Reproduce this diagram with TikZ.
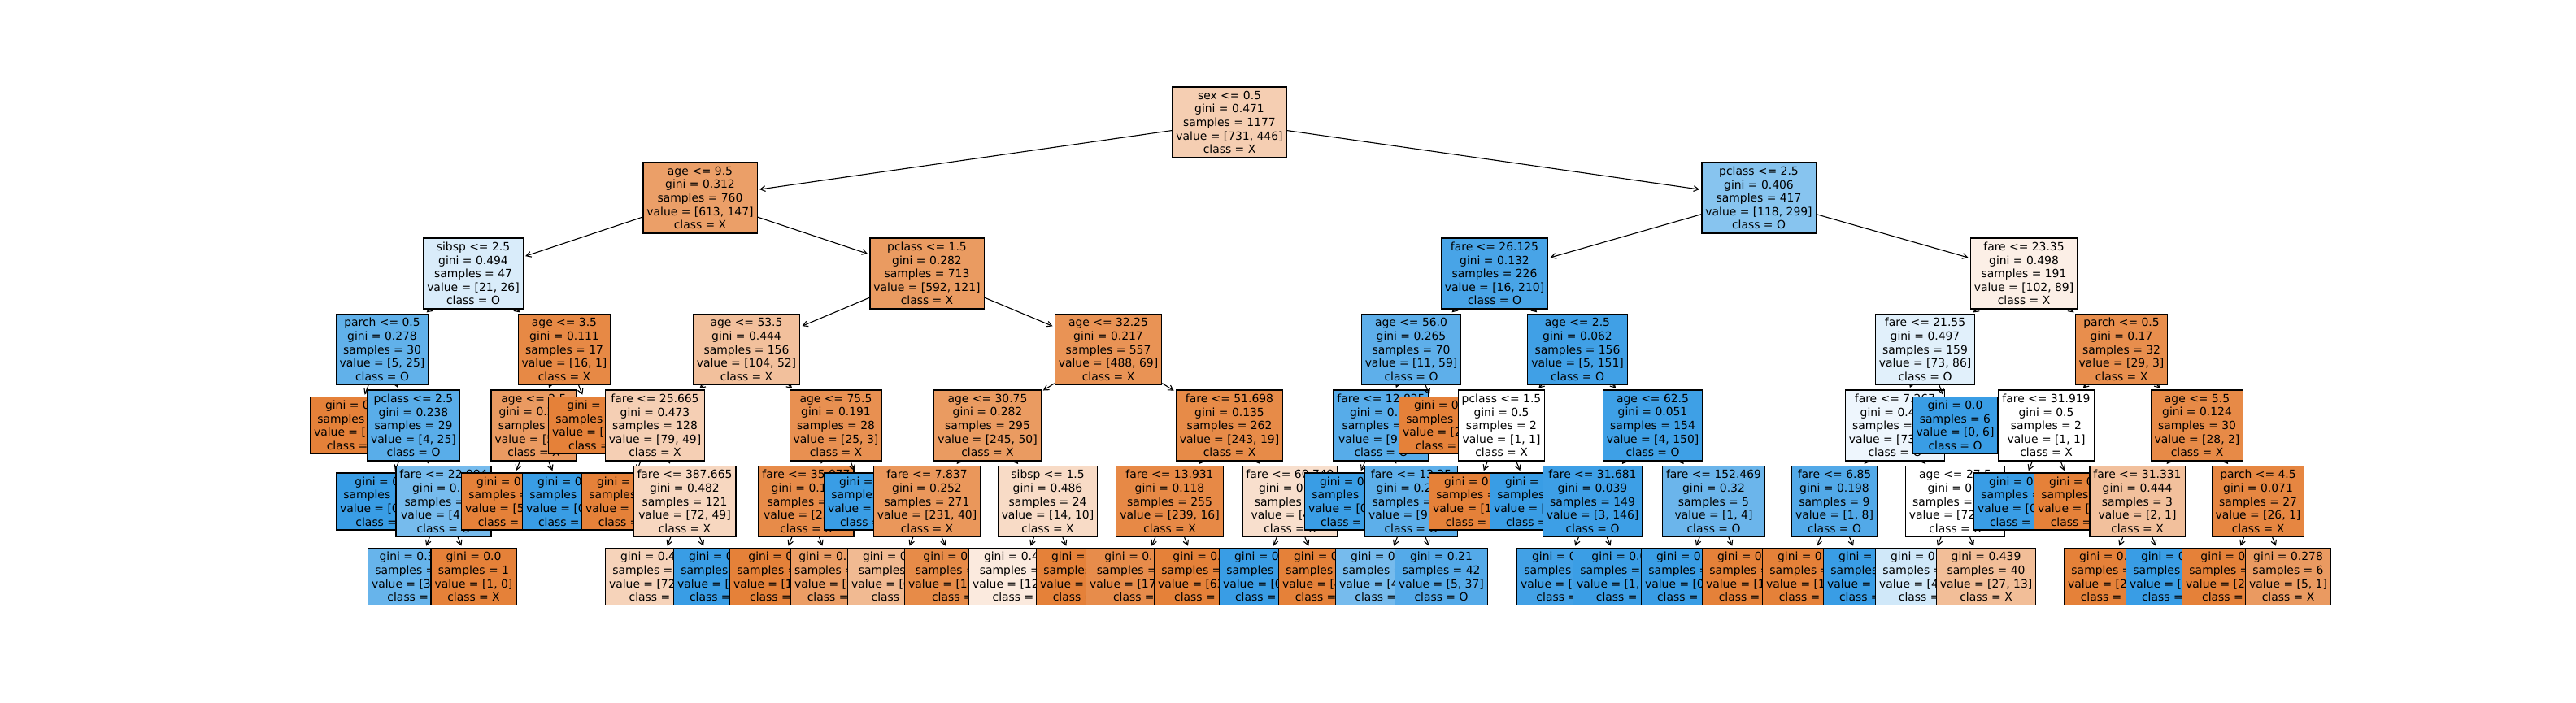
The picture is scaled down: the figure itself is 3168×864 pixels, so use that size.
\documentclass[tikz,border=0pt]{standalone}
\usepackage{fontspec}
\newfontfamily\dvsans{DejaVu Sans}
\usetikzlibrary{arrows.meta}
\definecolor{tO}{RGB}{229,129,57}
\definecolor{tB}{RGB}{57,157,229}
\pgfdeclarelayer{L0}\pgfdeclarelayer{L1}\pgfdeclarelayer{L2}\pgfdeclarelayer{L3}
\pgfdeclarelayer{L4}\pgfdeclarelayer{L5}\pgfdeclarelayer{L6}
\pgfsetlayers{L6,L5,L4,L3,L2,L1,L0,main}
\tikzset{
  vfill/.code 2 args={%
    \ifnum#1<#2\relax
      \pgfmathsetmacro\vpct{100*(1-#1/#2)}%
      \edef\vtmp{\noexpand\pgfkeysalso{fill=tB!\vpct!white}}%
    \else
      \pgfmathsetmacro\vpct{100*(1-#2/#1)}%
      \edef\vtmp{\noexpand\pgfkeysalso{fill=tO!\vpct!white}}%
    \fi\vtmp},
  tbox/.style={draw=black, line width=0.6pt, align=center, inner xsep=2.25pt, inner ysep=0pt,
    font=\dvsans\fontsize{6.95}{8.3}\selectfont},
  inode/.style={tbox, minimum height=43.5pt},
  lnode/.style={tbox, minimum height=35pt},
  arr/.style={-{Straight Barb[length=3pt,width=3.4pt]}, line width=0.55pt, shorten >=1.2pt}
}
\newcommand\TNode[9][]{%
  \begin{pgfonlayer}{#3}
  \node[inode, vfill={#8}{#9}, #1] (#2) at (#4)
    {#6\\gini = #7\\samples = \the\numexpr#8+#9\relax\\value = [#8, #9]\\class = \ifnum#8<#9 O\else X\fi};
  \draw[arr] (#5) -- (#2);
  \end{pgfonlayer}}
\newcommand\TLeaf[8][]{%
  \begin{pgfonlayer}{#3}
  \node[lnode, vfill={#7}{#8}, #1] (#2) at (#4)
    {gini = #6\\samples = \the\numexpr#7+#8\relax\\value = [#7, #8]\\class = \ifnum#7<#8 O\else X\fi};
  \draw[arr] (#5) -- (#2);
  \end{pgfonlayer}}
\begin{document}
\begin{tikzpicture}[x=0.5pt, y=-0.5pt]
\useasboundingbox (0,0) rectangle (3168,864);
\begin{pgfonlayer}{L0}
\node[inode, vfill={731}{446}] (R) at (1512,150.5)
  {sex <= 0.5\\gini = 0.471\\samples = 1177\\value = [731, 446]\\class = X};
\end{pgfonlayer}
% left subtree
\TNode{A}{L1}{861,243.5}{R}{age <= 9.5}{0.312}{613}{147}
\TNode{B}{L2}{582,336.5}{A}{sibsp <= 2.5}{0.494}{21}{26}
\TNode{C}{L3}{470,430}{B}{parch <= 0.5}{0.278}{5}{25}
\TLeaf[anchor=west]{C1}{L4}{381,523.5}{C}{0.0}{1}{0}
\TNode{C2}{L4}{508.5,523.5}{C}{pclass <= 2.5}{0.238}{4}{25}
\TLeaf[anchor=west]{C21}{L5}{413,617}{C2}{0.0}{0}{12}
\TNode{C22}{L5}{545.5,617}{C2}{fare <= 22.904}{0.36}{4}{13}
\TLeaf[anchor=west]{C221}{L6}{452,709.5}{C22}{0.305}{3}{13}
\TLeaf{C222}{L6}{582.5,709.5}{C22}{0.0}{1}{0}
\TNode{D}{L3}{694,430}{B}{age <= 3.5}{0.111}{16}{1}
\TNode{D1}{L4}{656.5,523.5}{D}{age <= 2.5}{0.278}{5}{1}
\TLeaf[anchor=west]{D11}{L5}{567,617}{D1}{0.0}{5}{0}
\TLeaf[anchor=west]{D12}{L5}{642,617}{D1}{0.0}{0}{1}
\TLeaf[anchor=west]{D2}{L4}{674,523.5}{D}{0.0}{11}{0}
\TNode{E}{L2}{1140,336.5}{A}{pclass <= 1.5}{0.282}{592}{121}
\TNode{F}{L3}{918,430}{E}{age <= 53.5}{0.444}{104}{52}
\TNode{F1}{L4}{805.5,523.5}{F}{fare <= 25.665}{0.473}{79}{49}
\TLeaf[anchor=west]{F11}{L5}{715,617}{F1}{0.0}{7}{0}
\TNode{F12}{L5}{842,617}{F1}{fare <= 387.665}{0.482}{72}{49}
\TLeaf[anchor=west]{F121}{L6}{744,709.5}{F12}{0.478}{72}{47}
\TLeaf[anchor=west]{F122}{L6}{828,709.5}{F12}{0.0}{0}{2}
\TNode{F2}{L4}{1028,523.5}{F}{age <= 75.5}{0.191}{25}{3}
\TNode{F21}{L5}{991.5,617}{F2}{fare <= 35.077}{0.137}{25}{2}
\TLeaf[anchor=west]{F211}{L6}{897,709.5}{F21}{0.0}{16}{0}
\TLeaf[anchor=west]{F212}{L6}{972,709.5}{F21}{0.298}{9}{2}
\TLeaf[anchor=west]{F22}{L5}{1013,617}{F2}{0.0}{0}{1}
\TNode{G}{L3}{1363,430}{E}{age <= 32.25}{0.217}{488}{69}
\TNode{G1}{L4}{1214.5,523.5}{G}{age <= 30.75}{0.282}{245}{50}
\TNode{G11}{L5}{1140,617}{G1}{fare <= 7.837}{0.252}{231}{40}
\TLeaf[anchor=west]{G111}{L6}{1042,709.5}{G11}{0.428}{60}{27}
\TLeaf[anchor=west]{G112}{L6}{1112,709.5}{G11}{0.131}{171}{13}
\TNode{G12}{L5}{1288.5,617}{G1}{sibsp <= 1.5}{0.486}{14}{10}
\TLeaf[anchor=west]{G121}{L6}{1191,709.5}{G12}{0.496}{12}{10}
\TLeaf[anchor=west]{G122}{L6}{1274,709.5}{G12}{0.0}{2}{0}
\TNode{G2}{L4}{1512,523.5}{G}{fare <= 51.698}{0.135}{243}{19}
\TNode{G21}{L5}{1438.5,617}{G2}{fare <= 13.931}{0.118}{239}{16}
\TLeaf[anchor=west]{G211}{L6}{1335,709.5}{G21}{0.153}{176}{16}
\TLeaf[anchor=west]{G212}{L6}{1419,709.5}{G21}{0.0}{63}{0}
\TNode{G22}{L5}{1586.5,617}{G2}{fare <= 60.749}{0.49}{4}{3}
\TLeaf[anchor=west]{G221}{L6}{1499,709.5}{G22}{0.0}{0}{3}
\TLeaf[anchor=west]{G222}{L6}{1572,709.5}{G22}{0.0}{4}{0}
% right subtree
\TNode{H}{L1}{2163,243.5}{R}{pclass <= 2.5}{0.406}{118}{299}
\TNode{I}{L2}{1838,336.5}{H}{fare <= 26.125}{0.132}{16}{210}
\TNode{J}{L3}{1735.5,430}{I}{age <= 56.0}{0.265}{11}{59}
\TNode{J1}{L4}{1698.5,523.5}{J}{fare <= 12.825}{0.23}{9}{59}
\TLeaf[anchor=west]{J11}{L5}{1604,617}{J1}{0.0}{0}{9}
\TNode{J12}{L5}{1735.5,617}{J1}{fare <= 13.25}{0.259}{9}{50}
\TLeaf[anchor=west]{J121}{L6}{1642,709.5}{J12}{0.36}{4}{13}
\TLeaf{J122}{L6}{1772.5,709.5}{J12}{0.21}{5}{37}
\TLeaf[anchor=west]{J2}{L4}{1720,523.5}{J}{0.0}{2}{0}
\TNode{K}{L3}{1940,430}{I}{age <= 2.5}{0.062}{5}{151}
\TNode{K1}{L4}{1846.5,523.5}{K}{pclass <= 1.5}{0.5}{1}{1}
\TLeaf[anchor=west]{K11}{L5}{1757,617}{K1}{0.0}{1}{0}
\TLeaf[anchor=west]{K12}{L5}{1832,617}{K1}{0.0}{0}{1}
\TNode{K2}{L4}{2032.5,523.5}{K}{age <= 62.5}{0.051}{4}{150}
\TNode{K21}{L5}{1958.5,617}{K2}{fare <= 31.681}{0.039}{3}{146}
\TLeaf[anchor=west]{K211}{L6}{1865,709.5}{K21}{0.08}{2}{46}
\TLeaf[anchor=west]{K212}{L6}{1934,709.5}{K21}{0.02}{1}{100}
\TNode{K22}{L5}{2107.5,617}{K2}{fare <= 152.469}{0.32}{1}{4}
\TLeaf[anchor=west]{K221}{L6}{2018,709.5}{K22}{0.0}{0}{4}
\TLeaf[anchor=west]{K222}{L6}{2093,709.5}{K22}{0.0}{1}{0}
\TNode{M}{L2}{2489,336.5}{H}{fare <= 23.35}{0.498}{102}{89}
\TNode{N}{L3}{2367.5,430}{M}{fare <= 21.55}{0.497}{73}{86}
\TNode{N1}{L4}{2330.5,523.5}{N}{fare <= 7.267}{0.499}{73}{80}
\TNode{N11}{L5}{2256,617}{N1}{fare <= 6.85}{0.198}{1}{8}
\TLeaf[anchor=west]{N111}{L6}{2167,709.5}{N11}{0.0}{1}{0}
\TLeaf[anchor=west]{N112}{L6}{2242,709.5}{N11}{0.0}{0}{8}
\TNode{N12}{L5}{2404.5,617}{N1}{age <= 27.5}{0.5}{72}{72}
\TLeaf[anchor=west]{N121}{L6}{2306,709.5}{N12}{0.491}{45}{59}
\TLeaf{N122}{L6}{2442.5,709.5}{N12}{0.439}{27}{13}
\TLeaf{N2}{L4}{2404.5,523.5}{N}{0.0}{0}{6}
\TNode{P}{L3}{2609,430}{M}{parch <= 0.5}{0.17}{29}{3}
\TNode{P1}{L4}{2516.5,523.5}{P}{fare <= 31.919}{0.5}{1}{1}
\TLeaf[anchor=west]{P11}{L5}{2427,617}{P1}{0.0}{0}{1}
\TLeaf[anchor=west]{P12}{L5}{2501,617}{P1}{0.0}{1}{0}
\TNode{P2}{L4}{2702,523.5}{P}{age <= 5.5}{0.124}{28}{2}
\TNode{P21}{L5}{2628.5,617}{P2}{fare <= 31.331}{0.444}{2}{1}
\TLeaf[anchor=west]{P211}{L6}{2538,709.5}{P21}{0.0}{2}{0}
\TLeaf[anchor=west]{P212}{L6}{2614,709.5}{P21}{0.0}{0}{1}
\TNode{P22}{L5}{2777,617}{P2}{parch <= 4.5}{0.071}{26}{1}
\TLeaf[anchor=west]{P221}{L6}{2683,709.5}{P22}{0.0}{21}{0}
\TLeaf{P222}{L6}{2814,709.5}{P22}{0.278}{5}{1}
\end{tikzpicture}
\end{document}
